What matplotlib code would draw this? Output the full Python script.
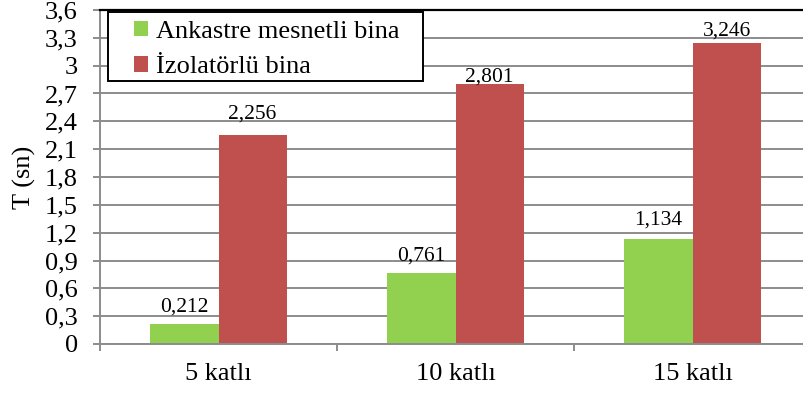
import numpy as np
import matplotlib.pyplot as plt
from matplotlib.patches import Rectangle
from matplotlib.ticker import FixedLocator, FuncFormatter

categories = ["5 katlı", "10 katlı", "15 katlı"]
ankastre = [0.212, 0.761, 1.134]
izolatorlu = [2.256, 2.801, 3.246]
y_ticks = [0, 0.3, 0.6, 0.9, 1.2, 1.5, 1.8, 2.1, 2.4, 2.7, 3.0, 3.3, 3.6]

# gap (points) between bar top and label baseline
ankastre_gap = [9.5, 9.5, 10]
izolatorlu_gap = [11.5, 1.5, 5]

plt.rcParams['font.family'] = ['Liberation Serif', 'DejaVu Serif']

fig = plt.figure(figsize=(8.04, 3.97), dpi=100)
# axes runs slightly past the right edge of the figure
ax = fig.add_axes([100 / 804, 53 / 397, 711 / 804, 334 / 397])

x = np.arange(len(categories))
w = 0.287
grey = "#8c8c8c"

ax.set_axisbelow(True)
ax.yaxis.grid(True, color=grey, lw=1.4)
b1 = ax.bar(x - w / 2, ankastre, w, color="#92D050", label="Ankastre mesnetli bina")
b2 = ax.bar(x + w / 2, izolatorlu, w, color="#C0504D", label="İzolatörlü bina")

def fmt(v):
    return f"{v:.3f}".replace(".", ",")

for bars, vals, gaps in ((b1, ankastre, ankastre_gap), (b2, izolatorlu, izolatorlu_gap)):
    for rect, v, g in zip(bars, vals, gaps):
        ax.annotate(fmt(v), (rect.get_x() + rect.get_width() / 2, v),
                    xytext=(0, g), textcoords="offset points",
                    ha="center", va="baseline", fontsize=15.5)

ax.set_xlim(-0.5, 2.5)
ax.set_ylim(0, 3.6)
ax.set_yticks(y_ticks)
ax.yaxis.set_major_formatter(FuncFormatter(lambda v, p: f"{v:g}".replace(".", ",")))
ax.set_xticks(x)
ax.set_xticklabels(categories, fontsize=19)
ax.xaxis.set_minor_locator(FixedLocator([-0.5, 0.5, 1.5, 2.5]))
ax.tick_params(axis="x", which="major", length=0, pad=14)
ax.tick_params(axis="x", which="minor", length=5, color=grey, width=1.4)
ax.tick_params(axis="y", length=5, color=grey, width=1.4, labelsize=19, pad=11)

ax.set_ylabel("T (sn)", fontsize=19, labelpad=6)

for s in ("left", "bottom"):
    ax.spines[s].set_color(grey)
    ax.spines[s].set_linewidth(1.4)
ax.spines["right"].set_visible(False)
ax.spines["top"].set_color("black")
ax.spines["top"].set_linewidth(1.6)

# legend box with wider side padding than top/bottom
ax.add_patch(Rectangle((0.0113, 0.787), 0.4427, 0.207, transform=ax.transAxes,
                       facecolor="white", edgecolor="black", lw=1.4, zorder=5))
leg = ax.legend(loc="upper left", bbox_to_anchor=(0.048, 0.968), fontsize=19,
                frameon=False, borderpad=0, borderaxespad=0,
                handlelength=0.53, handleheight=0.53, handletextpad=0.3,
                labelspacing=0.5)
leg.set_zorder(6)

fig.savefig("out.png", dpi=100)
